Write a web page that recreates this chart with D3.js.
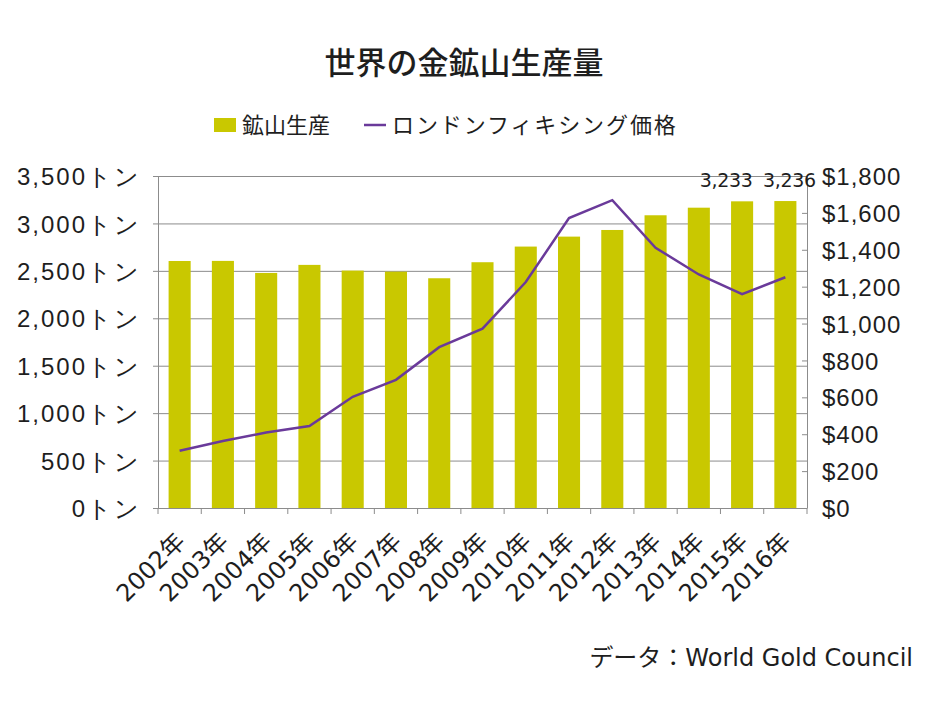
<!DOCTYPE html>
<html>
<head>
  <meta charset="UTF-8">
  <title>世界の金鉱山生産量</title>
  <style>
    body{ margin:0; background:#fff; font-family:"DejaVu Sans", "Noto Sans CJK JP", sans-serif; }
    text{ fill:#1e1e1e; }
    .jp{ font-family:"Noto Sans CJK JP", sans-serif; }
    .grid line{ stroke:#8c8c8c; stroke-width:1; }
    .axis path, .axis line{ stroke:#8c8c8c; }
  </style>
</head>
<body>
  <script src="https://d3js.org/d3.v7.min.js"></script>
  <script>
    var years = ["2002年","2003年","2004年","2005年","2006年","2007年","2008年","2009年","2010年","2011年","2012年","2013年","2014年","2015年","2016年"];
    var production = [2604, 2605, 2478, 2563, 2503, 2492, 2422, 2591, 2756, 2861, 2931, 3086, 3166, 3233, 3236];
    var price = [310, 363, 409, 444, 603, 695, 872, 972, 1225, 1572, 1669, 1411, 1266, 1160, 1251];
    var tonTicks = [0, 500, 1000, 1500, 2000, 2500, 3000, 3500];
    var priceTicks = [0, 200, 400, 600, 800, 1000, 1200, 1400, 1600, 1800];
    var labelled = ["2015年", "2016年"];

    var width = 934, height = 701;
    var margin = {top: 176, right: 127, bottom: 193, left: 158};
    var plotW = width - margin.left - margin.right,
        plotH = height - margin.top - margin.bottom;

    var svg = d3.select("body").append("svg")
        .attr("width", width)
        .attr("height", height);

    var x = d3.scaleBand().domain(years).range([0, plotW]).paddingInner(0.49).paddingOuter(0.245);
    var band = d3.scaleBand().domain(years).range([0, plotW]);
    var y = d3.scaleLinear().domain([0, 3500]).range([plotH, 0]);
    var y2 = d3.scaleLinear().domain([0, 1800]).range([plotH, 0]);

    var g = svg.append("g").attr("transform", "translate(" + margin.left + "," + margin.top + ")");

    // gridlines
    g.append("g").attr("class", "grid").selectAll("line")
      .data(tonTicks.slice(1))
      .enter().append("line")
        .attr("x1", 0).attr("x2", plotW)
        .attr("y1", function(d) { return y(d) + 0.5; })
        .attr("y2", function(d) { return y(d) + 0.5; });

    // bars
    g.append("g").selectAll("rect")
      .data(years)
      .enter().append("rect")
        .attr("x", function(d) { return x(d); })
        .attr("width", x.bandwidth())
        .attr("y", function(d, i) { return y(production[i]); })
        .attr("height", function(d, i) { return plotH - y(production[i]); })
        .attr("fill", "#c9c800");

    // left axis
    var left = g.append("g").attr("class", "axis")
      .call(d3.axisLeft(y).tickValues(tonTicks).tickSize(5).tickSizeOuter(0)
        .tickFormat(function(d) { return d3.format(",")(d) + "トン"; }));
    left.selectAll("text").attr("x", -17).attr("dy", "0.36em")
      .style("font-size", "24px").style("letter-spacing", "2px").style("fill", "#1e1e1e");

    // right axis
    var right = g.append("g").attr("class", "axis")
      .attr("transform", "translate(" + plotW + ",0)")
      .call(d3.axisRight(y2).tickValues(priceTicks).tickSize(0).tickSizeOuter(0)
        .tickFormat(function(d) { return "$" + d3.format(",")(d); }));
    right.selectAll(".tick line").attr("x1", -5).attr("x2", 0);
    right.selectAll("text").attr("x", 15).attr("dy", "0.36em")
      .style("font-size", "24px").style("letter-spacing", "1px").style("fill", "#1e1e1e");

    // bottom axis
    var bottom = g.append("g").attr("class", "axis")
      .attr("transform", "translate(0," + plotH + ")");
    bottom.append("line").attr("x1", 0).attr("x2", plotW).attr("y1", 0.5).attr("y2", 0.5);
    bottom.selectAll("line.tk")
      .data(years.concat(["end"]))
      .enter().append("line").attr("class", "tk")
        .attr("x1", function(d, i) { return i * band.bandwidth(); })
        .attr("x2", function(d, i) { return i * band.bandwidth(); })
        .attr("y1", 0).attr("y2", 6);
    bottom.selectAll("text")
      .data(years)
      .enter().append("text")
        .attr("transform", function(d) {
          return "translate(" + (band(d) + band.bandwidth() / 2 + 7) + ",35) rotate(-45)";
        })
        .attr("text-anchor", "end")
        .style("font-size", "24px")
        .text(function(d) { return d; });

    // price line
    var line = d3.line()
      .x(function(d, i) { return band(years[i]) + band.bandwidth() / 2; })
      .y(function(d) { return y2(d); });
    g.append("path").datum(price)
      .attr("d", line)
      .attr("fill", "none")
      .attr("stroke", "#6a3a9a")
      .attr("stroke-width", 2.5);

    // data labels (first one nudged left so the two don't collide)
    g.append("g").selectAll("text")
      .data(labelled)
      .enter().append("text")
        .attr("x", function(d, i) { return x(d) + x.bandwidth() / 2 + (i === 0 ? -16 : 4); })
        .attr("y", function(d) { return y(production[years.indexOf(d)]) - 14; })
        .attr("text-anchor", "middle")
        .style("font-size", "19px")
        .style("letter-spacing", "-0.3px")
        .text(function(d) { return d3.format(",")(production[years.indexOf(d)]); });

    // title
    svg.append("text").attr("class", "jp")
      .attr("x", 464).attr("y", 74)
      .attr("text-anchor", "middle")
      .style("font-size", "31px").style("font-weight", "500")
      .text("世界の金鉱山生産量");

    // legend
    var lg = svg.append("g").attr("transform", "translate(214,125)");
    lg.append("rect").attr("x", 0).attr("y", -7).attr("width", 22).attr("height", 14).attr("fill", "#c9c800");
    lg.append("text").attr("class", "jp").attr("x", 28).attr("dy", "0.36em")
      .style("font-size", "22px").text("鉱山生産");
    lg.append("line").attr("x1", 150).attr("x2", 172).attr("y1", 0).attr("y2", 0)
      .attr("stroke", "#6a3a9a").attr("stroke-width", 2.5);
    lg.append("text").attr("class", "jp").attr("x", 178).attr("dy", "0.36em")
      .style("font-size", "22px").style("letter-spacing", "1.9px").text("ロンドンフィキシング価格");

    // source
    svg.append("text")
      .attr("x", 913).attr("y", 666)
      .attr("text-anchor", "end")
      .style("font-size", "24px")
      .text("データ：World Gold Council");
  </script>
</body>
</html>
